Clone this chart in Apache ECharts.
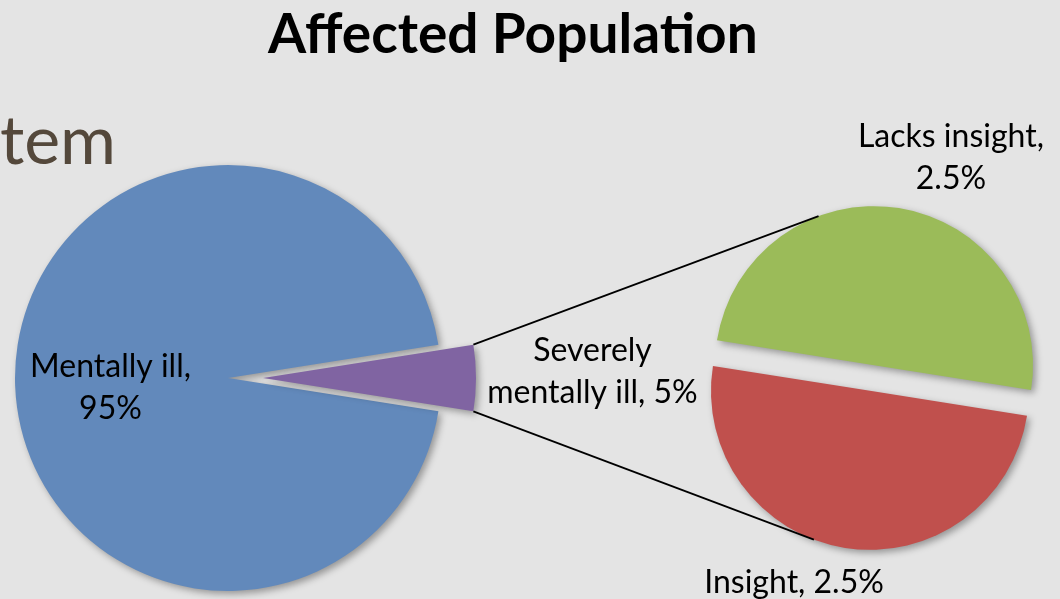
<!DOCTYPE html>
<html>
<head>
<meta charset="utf-8">
<script src="https://cdn.jsdelivr.net/npm/echarts@6/dist/echarts.min.js"></script>
<style>
html,body{margin:0;padding:0;background:#e4e4e4;}
#main{width:1060px;height:599px;}
</style>
</head>
<body>
<div id="main"></div>
<script>
// ---- data ----
const titleText = 'Affected Population';
const mainCategories = ['Mentally ill', 'Severely mentally ill'];
const mainValues = [95, 5];
const mainLabelPrefix = ['Mentally ill,\n', 'Severely\nmentally ill, '];
const subCategories = ['Lacks insight', 'Insight'];
const subValues = [2.5, 2.5];
const subLabelPrefix = ['Lacks insight,\n', 'Insight, '];
const backgroundWord = 'tem';

const colorsMain = ['#6289bb', '#8064a2'];
const colorsSub = ['#9bbb59', '#c0504d'];

const chart = echarts.init(document.getElementById('main'), null, {renderer: 'canvas'});
const FONT = 'Lato, "Open Sans", sans-serif';
const shadow = {shadowColor: 'rgba(0,0,0,0.35)', shadowBlur: 7, shadowOffsetX: 3, shadowOffsetY: 3};

const mainOffsets = [{dx: -4, dy: 5}, {dx: 220, dy: -6}];
const subOffsets = [{dx: 64, dy: -126}, {dx: -63, dy: 110}];

const option = {
  backgroundColor: '#e4e4e4',
  animation: false,
  title: {
    text: titleText,
    left: 263, top: 3,
    textStyle: {fontFamily: FONT, fontWeight: 'bold', fontSize: 55, color: '#000'}
  },
  series: [
    {
      type: 'pie',
      center: [228, 378],
      radius: 213,
      startAngle: 351,
      clockwise: true,
      selectedMode: 'single',
      selectedOffset: 35,
      avoidLabelOverlap: false,
      emphasis: {disabled: true},
      label: {
        show: true, position: 'inside', color: '#000',
        fontFamily: FONT, fontSize: 32, lineHeight: 42,
        formatter: p => mainLabelPrefix[p.dataIndex] + p.value + '%'
      },
      labelLine: {show: false},
      labelLayout: p => mainOffsets[p.dataIndex],
      data: mainCategories.map((c, i) => ({
        name: c, value: mainValues[i], selected: i === 1,
        itemStyle: Object.assign({color: colorsMain[i]}, shadow)
      }))
    },
    {
      type: 'pie',
      center: [872, 378],
      radius: 159,
      startAngle: 171,
      clockwise: true,
      selectedMode: 'multiple',
      selectedOffset: 13,
      avoidLabelOverlap: false,
      emphasis: {disabled: true},
      label: {
        show: true, position: 'inside', color: '#000',
        fontFamily: FONT, fontSize: 32, lineHeight: 42,
        formatter: p => subLabelPrefix[p.dataIndex] + p.value + '%'
      },
      labelLine: {show: false},
      labelLayout: p => subOffsets[p.dataIndex],
      data: subCategories.map((c, i) => ({
        name: c, value: subValues[i], selected: true,
        itemStyle: Object.assign({color: colorsSub[i]}, shadow)
      }))
    }
  ]
};
chart.setOption(option);

// ---- connector lines computed from the pie layouts ----
function sliceGeom(seriesIndex, dataIndex, offset) {
  const data = chart.getModel().getSeriesByIndex(seriesIndex).getData();
  const l = data.getItemLayout(dataIndex);
  const mid = (l.startAngle + l.endAngle) / 2;
  const cx = l.cx + Math.cos(mid) * offset;
  const cy = l.cy + Math.sin(mid) * offset;
  return {cx, cy, r: l.r, a0: l.startAngle, a1: l.endAngle};
}
function tangent(px, py, g, pickUpper) {
  const dx = px - g.cx, dy = py - g.cy;
  const d = Math.hypot(dx, dy);
  const th = Math.atan2(dy, dx);
  const al = Math.acos(g.r / d);
  const t1 = [g.cx + g.r * Math.cos(th + al), g.cy + g.r * Math.sin(th + al)];
  const t2 = [g.cx + g.r * Math.cos(th - al), g.cy + g.r * Math.sin(th - al)];
  if (pickUpper) return t1[1] < t2[1] ? t1 : t2;
  return t1[1] > t2[1] ? t1 : t2;
}
const pg = sliceGeom(0, 1, 35);
const topCorner = [pg.cx + pg.r * Math.cos(pg.a0), pg.cy + pg.r * Math.sin(pg.a0)];
const botCorner = [pg.cx + pg.r * Math.cos(pg.a1), pg.cy + pg.r * Math.sin(pg.a1)];
const gGreen = sliceGeom(1, 0, 13);
const gRed = sliceGeom(1, 1, 13);
const tTop = tangent(topCorner[0], topCorner[1], gGreen, true);
const tBot = tangent(botCorner[0], botCorner[1], gRed, false);

chart.setOption({
  graphic: [
    {type: 'text', left: 0, top: 108, z: -1,
     style: {text: backgroundWord, fill: '#54483b', font: '400 68px Lato, Roboto, sans-serif'}},
    {type: 'line', z: 10, shape: {x1: topCorner[0], y1: topCorner[1], x2: tTop[0], y2: tTop[1]},
     style: {stroke: '#000', lineWidth: 1.8}},
    {type: 'line', z: 10, shape: {x1: botCorner[0], y1: botCorner[1], x2: tBot[0], y2: tBot[1]},
     style: {stroke: '#000', lineWidth: 1.8}}
  ]
});
</script>
</body>
</html>
